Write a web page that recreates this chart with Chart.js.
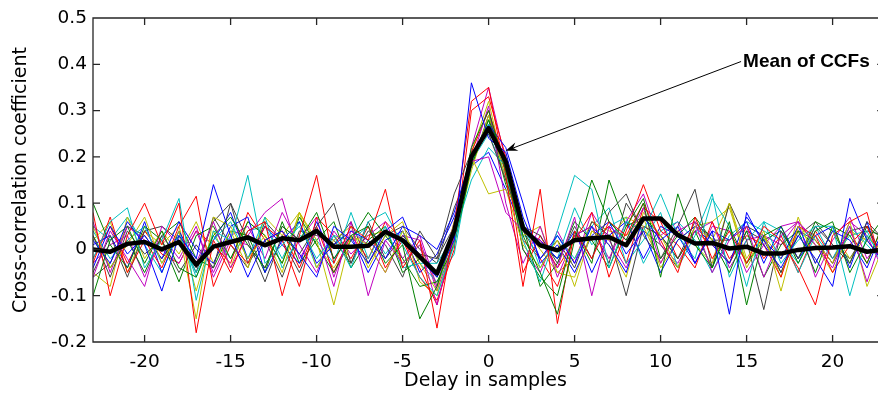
<!DOCTYPE html>
<html><head><meta charset="utf-8">
<script src="https://cdn.jsdelivr.net/npm/chart.js@4/dist/chart.umd.min.js"></script>
<style>html,body{margin:0;padding:0;background:#fff}canvas{display:block}</style>
</head><body>
<canvas id="c" width="878" height="395"></canvas>
<script>
// ---------- data ----------
const lags = [-23,-22,-21,-20,-19,-18,-17,-16,-15,-14,-13,-12,-11,-10,-9,-8,-7,-6,-5,-4,
              -3,-2,-1,0,1,2,3,
              4,5,6,7,8,9,10,11,12,13,14,15,16,17,18,19,20,21,22,23];

const meanCCF = [0.000,-0.005,0.012,0.016,0.000,0.016,-0.033,0.006,0.016,0.026,0.009,0.024,0.020,0.040,0.006,0.006,0.008,0.038,0.020,-0.016,
                 -0.052,0.040,0.200,0.262,0.190,0.046,0.009,
                 -0.002,0.020,0.024,0.027,0.009,0.067,0.067,0.031,0.013,0.014,0.002,0.006,-0.009,-0.009,-0.001,0.003,0.004,0.007,-0.005,0.000];

const ccf01 = [0.02,-0.03,0.06,0.01,-0.09,0.03,-0.02,0.14,0.03,-0.06,0.02,0.04,-0.01,-0.06,0.05,0.02,-0.03,0.04,0.07,-0.02,
               -0.06,0.02,0.36,0.24,0.21,0.07,-0.02,
               0.03,-0.03,0.05,0.01,-0.05,0.07,0.02,0.05,-0.03,0.04,-0.14,0.08,0.01,-0.04,0.03,-0.02,-0.08,0.11,0.02,-0.03];
const ccf02 = [-0.10,0.02,0.05,-0.03,0.04,-0.04,-0.06,0.03,0.07,0.01,-0.04,0.05,0.02,0.08,-0.02,0.03,0.05,-0.03,0.01,-0.15,
               -0.08,0.04,0.22,0.30,0.17,0.03,-0.05,
               -0.14,0.02,0.15,0.06,0.02,0.10,-0.06,0.12,0.01,-0.04,0.06,-0.12,0.03,0.05,-0.03,0.04,0.06,-0.05,0.02,0.07];
const ccf03 = [0.08,-0.10,0.03,0.10,0.01,0.10,-0.18,0.02,-0.05,0.04,0.06,-0.10,0.03,0.16,-0.03,0.05,0.02,0.13,-0.04,0.02,
               -0.17,0.05,0.32,0.35,0.16,-0.08,0.13,
               -0.16,0.04,-0.02,0.06,0.03,0.10,0.02,-0.05,0.07,-0.02,0.04,-0.03,0.05,0.02,-0.04,-0.12,0.03,0.06,0.08,-0.06];
const ccf04 = [-0.02,0.06,0.09,-0.04,0.02,0.11,-0.11,0.04,0.02,0.16,-0.03,0.01,0.05,-0.02,0.03,-0.04,0.06,0.08,0.01,-0.06,
               -0.10,0.01,0.20,0.27,0.19,0.02,-0.07,
               0.04,0.16,0.13,-0.04,0.06,0.04,0.12,0.03,-0.02,0.11,0.05,-0.08,0.06,-0.03,0.02,0.05,0.05,-0.10,0.03,-0.02];
const ccf05 = [-0.06,0.04,-0.02,-0.08,0.05,0.01,-0.03,0.06,-0.04,0.03,0.08,0.11,-0.02,0.04,-0.08,0.06,-0.10,0.02,-0.03,0.01,
               -0.12,0.03,0.19,0.20,0.08,0.04,0.02,
               -0.04,0.07,-0.10,0.05,0.02,0.09,-0.03,0.04,0.06,-0.05,0.02,0.05,-0.06,0.03,0.06,0.01,-0.04,0.05,-0.07,0.04];
const ccf06 = [0.05,-0.04,0.01,0.07,-0.03,0.04,-0.15,0.07,0.05,-0.02,0.03,-0.05,0.08,0.02,-0.12,0.03,0.01,-0.05,0.04,-0.03,
               -0.09,0.06,0.20,0.12,0.13,0.01,-0.04,
               0.02,-0.08,0.04,0.01,-0.06,0.08,0.03,-0.04,0.05,0.02,0.10,-0.02,0.04,-0.09,0.05,0.02,-0.03,0.06,-0.08,0.01];
const ccf07 = [0.03,-0.06,0.04,-0.01,0.02,-0.05,0.01,-0.04,0.10,0.02,-0.07,0.03,-0.01,0.05,0.10,-0.03,0.04,0.01,-0.06,0.04,
               -0.02,0.12,0.21,0.25,0.15,0.05,0.03,
               -0.03,0.05,-0.02,0.08,0.12,0.03,-0.02,0.05,0.13,-0.04,0.10,0.02,-0.13,0.04,-0.02,0.05,0.01,-0.03,0.06,0.02];
const ccf08 = [-0.04,0.05,-0.01,0.03,-0.02,0.06,0.00,-0.03,0.05,0.07,-0.05,0.02,0.06,-0.03,0.01,0.04,0.02,-0.02,0.05,0.03,
               0.00,0.08,0.20,0.27,0.22,0.10,-0.03,
               0.01,-0.05,0.03,0.06,-0.01,0.04,-0.05,0.02,0.05,0.01,-0.03,0.07,0.02,-0.02,0.05,-0.03,0.04,0.02,-0.04,0.05];
const ccf09 = [0.10,0.01,-0.04,0.05,0.02,-0.07,0.03,0.05,-0.02,0.06,0.03,-0.03,0.07,0.01,-0.05,0.02,0.08,0.03,-0.02,-0.08,
               -0.07,0.01,0.18,0.28,0.19,0.00,-0.06,
               -0.10,0.04,-0.03,0.15,0.05,0.11,-0.02,0.03,0.07,0.02,-0.05,0.04,-0.06,0.01,0.04,-0.05,0.05,0.03,-0.03,0.06];
const ccf10 = [-0.03,0.07,-0.05,0.02,-0.04,0.05,0.115,-0.08,0.01,-0.03,0.05,0.02,-0.08,0.07,0.03,-0.02,0.05,-0.04,0.02,-0.06,
               -0.11,0.00,0.30,0.33,0.20,-0.05,0.03,
               -0.04,0.02,0.08,-0.06,0.04,0.14,0.04,0.01,-0.04,0.06,-0.02,0.03,0.01,-0.06,0.05,0.03,-0.05,0.01,0.05,-0.04];
const ccf11 = [0.04,-0.02,0.02,0.05,-0.03,0.03,-0.05,0.02,0.06,-0.02,0.07,-0.04,0.03,0.02,-0.03,0.08,-0.02,0.05,-0.04,-0.03,
               -0.03,0.03,0.15,0.22,0.18,0.06,-0.04,
               0.03,-0.02,0.05,0.09,-0.03,0.02,0.08,-0.04,0.03,0.12,-0.06,0.02,0.06,0.04,-0.05,0.03,-0.02,0.05,0.01,-0.03];
const ccf12 = [0.06,-0.05,0.05,0.02,0.00,-0.03,0.04,-0.05,0.03,0.05,-0.02,0.08,0.01,-0.05,0.04,-0.01,0.03,0.06,-0.02,0.03,
               -0.08,0.06,0.19,0.31,0.10,-0.03,0.05,
               -0.06,0.03,0.05,-0.02,0.06,0.12,0.01,-0.03,0.04,0.06,-0.04,0.02,0.03,0.01,0.06,-0.06,0.02,0.07,-0.02,0.03];
const ccf13 = [-0.05,-0.08,0.07,-0.02,0.04,-0.01,0.06,-0.03,0.04,-0.04,0.07,0.03,0.08,-0.04,0.02,0.05,-0.04,0.03,0.06,-0.07,
               -0.10,0.02,0.17,0.29,0.15,0.03,0.05,
               -0.05,-0.06,0.04,0.02,0.07,0.05,-0.03,0.04,0.01,-0.03,0.10,-0.04,0.03,-0.06,0.07,-0.03,0.04,-0.02,0.03,-0.01];
const ccf14 = [-0.05,0.03,-0.06,0.04,0.05,0.02,-0.04,0.06,0.10,-0.03,0.02,-0.06,0.04,0.03,0.02,-0.03,0.06,-0.02,0.03,-0.01,
               -0.02,0.05,0.20,0.26,0.17,0.04,-0.02,
               0.02,-0.04,0.06,0.03,-0.10,0.05,0.03,-0.02,0.06,0.02,0.02,0.05,0.03,-0.05,0.04,0.02,-0.03,0.04,0.05,-0.02];
const ccf15 = [0.01,0.03,-0.04,0.06,-0.05,0.04,-0.03,0.02,0.08,-0.02,0.05,0.01,-0.03,0.06,-0.02,0.03,-0.05,0.02,0.04,-0.05,
               -0.01,0.07,0.18,0.21,0.13,0.04,0.02,
               -0.02,0.04,-0.05,0.03,0.06,-0.02,0.05,0.03,-0.03,0.04,0.02,0.06,-0.03,0.05,-0.02,0.03,0.05,-0.04,0.06,-0.05];
const ccf16 = [0.03,-0.04,0.02,-0.05,0.03,0.06,-0.02,-0.04,0.04,0.03,-0.05,0.06,-0.03,0.02,0.06,-0.04,0.02,0.05,-0.05,-0.02,
               -0.06,0.04,0.19,0.28,0.14,0.05,-0.08,
               -0.03,0.06,0.02,-0.04,0.05,0.07,0.03,-0.02,0.04,-0.04,0.05,-0.03,0.02,0.04,-0.02,0.06,0.04,-0.03,0.05,0.02];
const ccf17 = [-0.02,0.05,-0.03,0.04,-0.01,-0.03,0.04,0.01,-0.03,0.08,0.02,0.04,-0.04,0.05,-0.05,0.03,-0.02,0.06,0.02,-0.04,
               -0.12,0.02,0.21,0.30,0.18,0.02,-0.02,
               -0.08,0.03,0.02,0.05,-0.03,0.09,0.06,-0.02,0.04,0.01,-0.03,0.05,-0.02,0.03,-0.05,0.04,-0.02,0.04,-0.03,0.06];
const ccf18 = [0.05,0.02,0.07,0.01,-0.05,0.04,-0.06,0.03,-0.02,0.04,0.05,-0.02,0.06,-0.04,0.03,0.02,0.05,-0.01,0.04,-0.03,
               -0.07,-0.01,0.19,0.25,0.16,0.03,0.02,
               -0.02,0.09,0.01,0.05,0.07,-0.03,0.04,0.06,0.02,-0.05,0.03,0.06,0.04,0.02,-0.03,0.05,-0.02,0.03,0.04,-0.04];
const ccf19 = [-0.03,0.01,0.03,-0.06,0.03,-0.02,0.05,-0.06,0.02,0.01,-0.04,0.05,0.02,0.07,-0.06,0.04,0.01,-0.05,0.03,0.02,
               -0.09,0.02,0.22,0.35,0.19,0.00,-0.05,
               0.04,-0.03,0.08,0.02,-0.04,0.05,0.03,0.06,-0.03,0.05,0.04,-0.05,0.01,0.05,0.06,0.02,-0.03,0.06,0.03,-0.05];
const ccf20 = [0.02,0.06,-0.05,0.04,0.01,0.05,-0.09,0.04,-0.04,0.06,0.03,-0.03,0.08,0.01,-0.04,0.02,0.03,0.04,-0.03,0.01,
               -0.08,0.03,0.21,0.32,0.16,0.05,0.00,
               -0.05,-0.02,0.06,0.04,0.03,0.07,-0.04,0.02,0.05,0.06,0.09,-0.03,0.03,-0.02,0.04,0.01,-0.05,0.04,0.02,-0.03];
const ccf21 = [-0.06,-0.03,0.05,0.03,-0.02,0.03,-0.05,0.07,0.01,-0.04,0.06,0.02,-0.05,0.04,0.01,0.06,-0.03,0.03,0.05,0.00,
               -0.03,0.09,0.18,0.29,0.17,0.04,0.01,
               -0.02,0.03,0.05,-0.03,0.10,0.04,0.01,-0.04,0.05,0.03,-0.03,0.04,0.02,-0.05,0.03,0.06,0.01,-0.02,0.04,0.03];

const xTickValues = [-20,-15,-10,-5,0,5,10,15,20];
const xTickLabels = ['-20','-15','-10','-5','0','5','10','15','20'];
const yTickValues = [-0.2,-0.1,0,0.1,0.2,0.3,0.4,0.5];
const yTickLabels = ['-0.2','-0.1','0','0.1','0.2','0.3','0.4','0.5'];

const xAxisTitle = 'Delay in samples';
const yAxisTitle = 'Cross-correlation coefficient';
const annotationText = 'Mean of CCFs';
const annotationTail = [14.68, 0.406];   // data coords of arrow start (near label)
const annotationHead = [0.99, 0.213];    // data coords of arrow tip (on mean curve)

// ---------- styling ----------
const ccfSeries = [ccf01,ccf02,ccf03,ccf04,ccf05,ccf06,ccf07,ccf08,ccf09,ccf10,ccf11,
                   ccf12,ccf13,ccf14,ccf15,ccf16,ccf17,ccf18,ccf19,ccf20,ccf21];
const lineColors = ['#0000ff','#008000','#ff0000','#00bfbf','#bf00bf','#bfbf00','#404040'];
const FONT = "'DejaVu Sans', sans-serif";

const toPoints = arr => lags.map((x, i) => ({x: x, y: arr[i]}));

const datasets = [{
  label: 'Mean of CCFs', data: toPoints(meanCCF), borderColor: '#000000',
  borderWidth: 4.5, pointRadius: 0, order: 0, borderJoinStyle: 'round', borderCapStyle: 'round'
}];
ccfSeries.forEach((s, i) => datasets.push({
  label: 'CCF ' + (i + 1), data: toPoints(s), borderColor: lineColors[i % lineColors.length],
  borderWidth: 1, pointRadius: 0, order: 1
}));

const framePlugin = {
  id: 'frame',
  afterDraw(chart) {
    const {ctx, chartArea: a, scales: {x, y}} = chart;
    const xr = x.getPixelForValue(23);
    ctx.save();
    ctx.strokeStyle = '#262626';
    ctx.lineWidth = 1.3;
    ctx.beginPath();
    ctx.rect(a.left, a.top, xr - a.left, a.bottom - a.top);
    const tl = 7;
    xTickValues.forEach(v => {
      const px = x.getPixelForValue(v);
      ctx.moveTo(px, a.bottom); ctx.lineTo(px, a.bottom - tl);
      ctx.moveTo(px, a.top); ctx.lineTo(px, a.top + tl);
    });
    yTickValues.forEach(v => {
      const py = y.getPixelForValue(v);
      ctx.moveTo(a.left, py); ctx.lineTo(a.left + tl, py);
      ctx.moveTo(xr, py); ctx.lineTo(xr - tl, py);
    });
    ctx.stroke();

    // annotation arrow
    const sx = x.getPixelForValue(annotationTail[0]), sy = y.getPixelForValue(annotationTail[1]);
    const tx = x.getPixelForValue(annotationHead[0]), ty = y.getPixelForValue(annotationHead[1]);
    const dx = tx - sx, dy = ty - sy, len = Math.hypot(dx, dy);
    const ux = dx / len, uy = dy / len, nx = -uy, ny = ux;
    const hl = 12, hw = 4.5, notch = 8;
    ctx.strokeStyle = '#000'; ctx.lineWidth = 1;
    ctx.beginPath();
    ctx.moveTo(sx, sy); ctx.lineTo(tx - ux * notch, ty - uy * notch);
    ctx.stroke();
    ctx.fillStyle = '#000';
    ctx.beginPath();
    ctx.moveTo(tx, ty);
    ctx.lineTo(tx - ux * hl + nx * hw, ty - uy * hl + ny * hw);
    ctx.lineTo(tx - ux * notch, ty - uy * notch);
    ctx.lineTo(tx - ux * hl - nx * hw, ty - uy * hl - ny * hw);
    ctx.closePath();
    ctx.fill();

    ctx.font = "bold 19px 'Liberation Sans', Arial, sans-serif";
    ctx.textAlign = 'left';
    ctx.textBaseline = 'middle';
    ctx.fillText(annotationText, sx + 2, sy);
    ctx.restore();
  }
};

new Chart(document.getElementById('c'), {
  type: 'line',
  data: {datasets},
  plugins: [framePlugin],
  options: {
    responsive: false,
    animation: false,
    devicePixelRatio: 1,
    layout: {padding: {top: 18, right: 0, bottom: 0, left: 0}},
    plugins: {legend: {display: false}, tooltip: {enabled: false}},
    elements: {line: {tension: 0}},
    scales: {
      x: {
        type: 'linear', min: -23, max: 22.64,
        afterBuildTicks: s => { s.ticks = xTickValues.map(v => ({value: v})); },
        afterFit: s => { s.height = 53; s.paddingLeft = 0; s.paddingRight = 0; },
        grid: {display: false, drawTicks: false}, border: {display: false},
        ticks: {color: '#000', font: {family: FONT, size: 18.5}, padding: 9, maxRotation: 0, autoSkip: false,
                callback: (v, i) => xTickLabels[i]},
        title: {display: true, text: xAxisTitle, color: '#000', font: {family: FONT, size: 19},
                padding: {top: 0, bottom: 3}}
      },
      y: {
        type: 'linear', min: -0.2, max: 0.5,
        afterBuildTicks: s => { s.ticks = yTickValues.map(v => ({value: v})); },
        afterFit: s => { s.width = 93; s.paddingTop = 0; s.paddingBottom = 0; },
        grid: {display: false, drawTicks: false}, border: {display: false},
        ticks: {color: '#000', font: {family: FONT, size: 18.5}, padding: 6, autoSkip: false,
                callback: (v, i) => yTickLabels[i]},
        title: {display: true, text: yAxisTitle, color: '#000', font: {family: FONT, size: 19},
                padding: {top: 10, bottom: 0}}
      }
    }
  }
});
</script>
</body></html>
